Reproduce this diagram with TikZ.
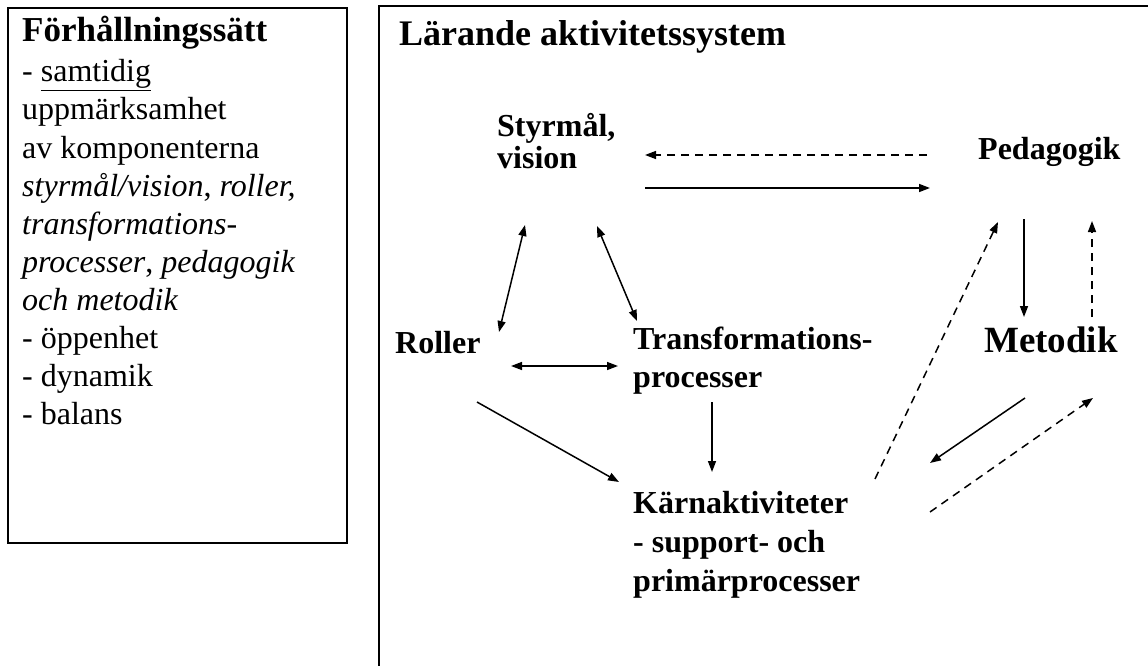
\documentclass[tikz,border=0pt]{standalone}
\usepackage{fontspec}
\setmainfont{Liberation Serif}
\usetikzlibrary{arrows.meta}
\begin{document}
\begin{tikzpicture}[x=1pt,y=-1pt,
  lt/.style={anchor=base west,inner sep=0pt,font=\fontsize{32}{38}\selectfont},
  nd/.style={anchor=base west,inner sep=0pt,font=\fontsize{32}{38}\selectfont\bfseries},
  tip/.tip={Triangle[length=11pt,width=8pt]},
  con/.style={line width=1.5pt,-tip},
  dcon/.style={con,dash pattern=on 8pt off 6pt},
  bcon/.style={line width=1.5pt,tip-tip},
  frame/.style={draw,line width=1.8pt}]
\useasboundingbox (0,0) rectangle (1148,666);
% frames
\draw[frame] (8,8) rectangle (347,543);
\draw[frame] (1148,6) -- (379,6) -- (379,666);
% left text
\node[lt,font=\fontsize{35}{38}\selectfont\bfseries] (lhead) at (22,42) {Förhållningssätt};
\node[lt] (l1) at (22,82) {- \underline{samtidig}};
\node[lt] (l2) at (22,120) {uppmärksamhet};
\node[lt] (l3) at (22,158) {av komponenterna};
\node[lt] (l4) at (22,196) {\textit{styrmål/vision}, \textit{roller,}};
\node[lt] (l5) at (22,234) {\textit{transformations-}};
\node[lt] (l6) at (22,272) {\textit{processer}, \textit{pedagogik}};
\node[lt] (l7) at (22,310) {\textit{och metodik}};
\node[lt] (l8) at (22,348) {- öppenhet};
\node[lt] (l9) at (22,386) {- dynamik};
\node[lt] (l10) at (22,424) {- balans};
% right title
\node[nd,font=\fontsize{36}{40}\selectfont\bfseries] (title) at (399,46) {Lärande aktivitetssystem};
% nodes
\node[nd] (sty1) at (497,136) {Styrmål,};
\node[nd] (sty2) at (497,168) {vision};
\node[nd] (ped) at (978,160) {Pedagogik};
\node[nd] (rol) at (395,353) {Roller};
\node[nd] (tr1) at (633,349) {Transformations-};
\node[nd] (tr2) at (633,387) {processer};
\node[nd,font=\fontsize{37}{40}\selectfont\bfseries] (met) at (984,352) {Metodik};
\node[nd] (k1) at (633,513) {Kärnaktiviteter};
\node[nd] (k2) at (633,552) {- support- och};
\node[nd] (k3) at (633,591) {primärprocesser};
% connector end points
\coordinate (pedW1) at (927,155);  \coordinate (styE1) at (645,155);
\coordinate (styE2) at (645,188);  \coordinate (pedW2) at (930,188);
\coordinate (rolN) at (499,332);   \coordinate (styS1) at (525,225);
\coordinate (styS2) at (597,226);  \coordinate (trN) at (637,321);
\coordinate (rolE) at (511,366);   \coordinate (trW) at (618,366);
\coordinate (rolS) at (477,402);   \coordinate (kNW) at (619,482);
\coordinate (trS) at (712,402);    \coordinate (kN) at (712,472);
\coordinate (kNE) at (875,479);    \coordinate (pedSW) at (998,222);
\coordinate (pedS) at (1024,219);  \coordinate (metN) at (1024,317);
\coordinate (metNE) at (1092,317); \coordinate (pedSE) at (1092,221);
\coordinate (metS) at (1025,398);  \coordinate (kE) at (930,463);
\coordinate (kE2) at (930,512);    \coordinate (metSE) at (1093,398);
% connectors
\draw[dcon] (pedW1) -- (styE1);
\draw[con] (styE2) -- (pedW2);
\draw[bcon] (rolN) -- (styS1);
\draw[bcon] (styS2) -- (trN);
\draw[bcon] (rolE) -- (trW);
\draw[con] (rolS) -- (kNW);
\draw[con] (trS) -- (kN);
\draw[dcon] (kNE) -- (pedSW);
\draw[con] (pedS) -- (metN);
\draw[dcon] (metNE) -- (pedSE);
\draw[con] (metS) -- (kE);
\draw[dcon] (kE2) -- (metSE);
\end{tikzpicture}
\end{document}
